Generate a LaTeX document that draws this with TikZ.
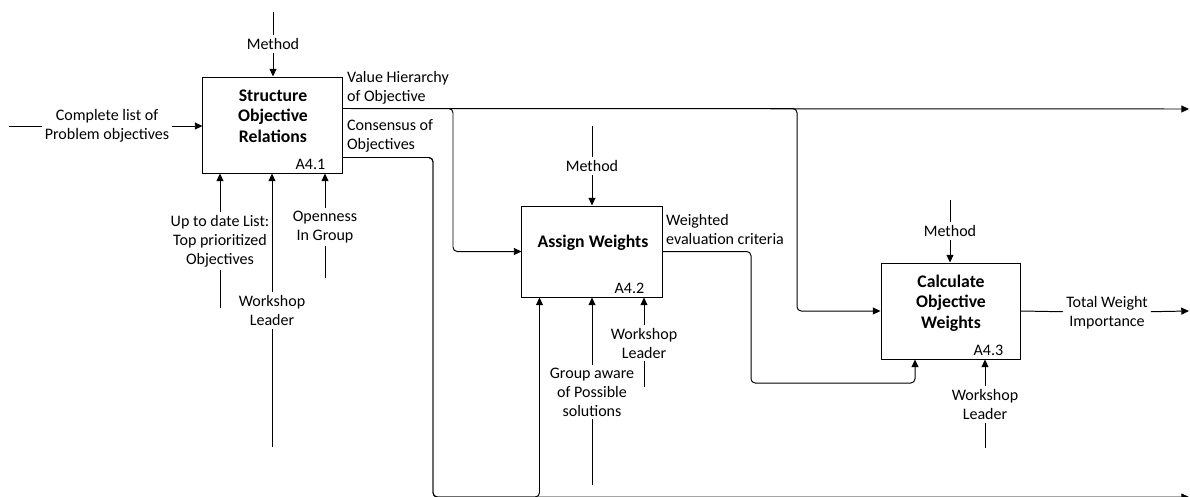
\documentclass[tikz,border=0pt]{standalone}
\usepackage{fontspec}
\setmainfont{Carlito}
\usetikzlibrary{arrows.meta,positioning,calc}

\begin{document}
\begin{tikzpicture}[x=0.025cm,y=-0.025cm,
    every node/.style={font=\fontsize{11.4}{13.5}\selectfont},
    proc/.style={draw, line width=0.7pt, minimum width=3.475cm, minimum height=2.4cm, inner sep=0pt},
    ttl/.style={align=center, font=\fontsize{12.6}{14.6}\selectfont\bfseries},
    lbl/.style={align=center, inner sep=2pt},
    num/.style={anchor=base east, inner sep=0pt},
    flow/.style={line width=0.7pt, rounded corners=3pt},
    arr/.style={flow, -{Triangle[length=5.5pt,width=5pt]}}]
    \useasboundingbox (0,0) rectangle (1190,496);

    % activity boxes
    \node[proc] (a1) at (272.5,125) {};
    \node[proc, minimum width=3.5cm, minimum height=2.275cm] (a2) at (592,251.5) {};
    \node[proc] (a3) at (950.5,311) {};
    \node[ttl] (t1) at (273,116) {Structure\\Objective\\Relations};
    \node[ttl] (t2) at (593,243) {Assign Weights};
    \node[ttl] (t3) at (951,303) {Calculate\\Objective\\Weights};
    \node[num] (n1) at ($(a1.south east)+(-17,-4.5)$) {A4.1};
    \node[num] (n2) at ($(a2.south east)+(-18,-4.5)$) {A4.2};
    \node[num] (n3) at ($(a3.south east)+(-17,-4.5)$) {A4.3};

    % mechanisms from above
    \coordinate (m1s) at (273,12);
    \coordinate (m2s) at (592,126);
    \coordinate (m3s) at (950,200);
    \node[lbl] (m1) at (273,44) {Method};
    \node[lbl] (m2) at (592,166) {Method};
    \node[lbl] (m3) at (950,231) {Method};
    \foreach \i in {1,2,3} {
        \draw[flow] (m\i s) -- (m\i);
        \draw[arr] (m\i) -- (m\i |- a\i.north);
    }

    % input
    \coordinate (ins) at (9,126);
    \node[lbl] (in1) at (107,126) {Complete list of\\Problem objectives};
    \draw[flow] (ins) -- (in1);
    \draw[arr] (in1) -- (in1 -| a1.west);

    % outputs of A4.1
    \node[lbl, anchor=west, align=left] (vhl) at (344,87.5) {Value Hierarchy\\of Objective};
    \node[lbl, anchor=west, align=left] (col) at (344,135.5) {Consensus of\\Objectives};
    \coordinate (vh) at ($(a1.north east)+(0,32)$);
    \coordinate (vhend) at (1189,109);
    \coordinate (cs) at ($(a1.north east)+(0,81)$);
    \coordinate (csend) at (1189,497);
    \draw[arr] (vh) -- (vhend);
    \draw[arr] (vh) -| (453,200) |- (a2.west);
    \draw[arr] (vh) -| (797,250) |- (a3.west);
    \draw[arr] (cs) -| (433,497) -- (csend);
    \draw[arr] (cs) -| (433,497) -| ($(a2.south west)+(18,0)$);

    % controls below A4.1
    \node[lbl] (c1) at (220,241) {Up to date List:\\Top prioritized\\Objectives};
    \node[lbl] (c2) at (272,310.5) {Workshop\\Leader};
    \node[lbl] (c3) at (325,227) {Openness\\In Group};
    \coordinate (c1s) at (220,308);
    \coordinate (c2s) at (272,447);
    \coordinate (c3s) at (325,278);
    \foreach \i in {1,2,3} {
        \draw[flow] (c\i s) -- (c\i);
        \draw[arr] (c\i) -- (c\i |- a1.south);
    }

    % controls below A4.2 and A4.3
    \node[lbl] (g2) at (592,392) {Group aware\\of Possible\\solutions};
    \node[lbl] (w2) at (644,343) {Workshop\\Leader};
    \node[lbl] (w3) at (985,404.5) {Workshop\\Leader};
    \coordinate (g2s) at (592,485);
    \coordinate (w2s) at (644,387);
    \coordinate (w3s) at (985,448);
    \draw[flow] (g2s) -- (g2);
    \draw[arr] (g2) -- (g2 |- a2.south);
    \draw[flow] (w2s) -- (w2);
    \draw[arr] (w2) -- (w2 |- a2.south);
    \draw[flow] (w3s) -- (w3);
    \draw[arr] (w3) -- (w3 |- a3.south);

    % output of A4.2
    \node[lbl, anchor=west, align=left] (wel) at (663,229) {Weighted\\evaluation criteria};
    \draw[arr] (a2.east) -| (751,383) -| ($(a3.south)+(-35.5,0)$);

    % output of A4.3
    \node[lbl] (tw) at (1107,312.5) {Total Weight\\Importance};
    \coordinate (twend) at (1189,311);
    \draw[flow] (a3.east) -- (tw);
    \draw[arr] (tw) -- (twend);
\end{tikzpicture}
\end{document}
